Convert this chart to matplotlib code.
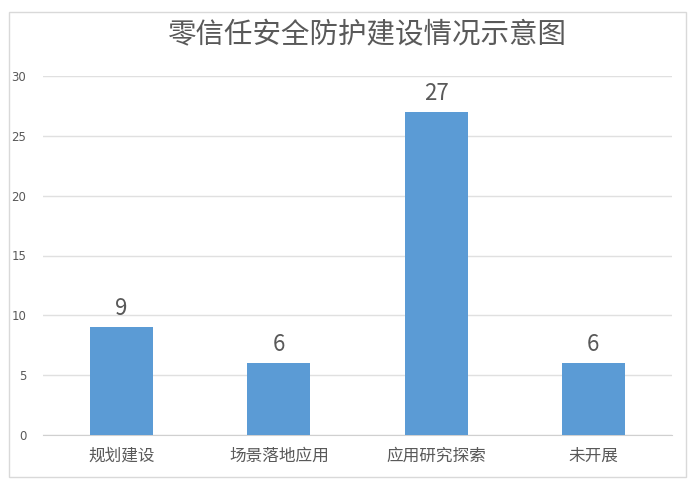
import matplotlib
matplotlib.use("Agg")
import matplotlib.pyplot as plt
from matplotlib.patches import Rectangle

plt.rcParams['font.family'] = ['Noto Sans CJK SC', 'DejaVu Sans']

categories = ["规划建设", "场景落地应用", "应用研究探索", "未开展"]
values = [9, 6, 27, 6]
yticks = [0, 5, 10, 15, 20, 25, 30]
title = "零信任安全防护建设情况示意图"

fig = plt.figure(figsize=(7, 4.87), dpi=100)
fig.patches.append(Rectangle((9/700, 1-477/487), (686-9)/700, (477-12)/487,
                             transform=fig.transFigure, fill=False,
                             edgecolor="#d9d9d9", linewidth=1))
ax = fig.add_axes([43/700, 1-435/487, (672-43)/700, (435-76)/487])

x = range(len(categories))
bars = ax.bar(x, values, width=0.4, color="#5b9bd5", zorder=3)
for xi, v in zip(x, values):
    ax.annotate(str(v), (xi, v), xytext=(0, 5), textcoords="offset points",
                ha="center", va="bottom", fontsize=16, color="#595959")

ax.set_xlim(-0.5, len(categories) - 0.5)
ax.set_ylim(0, 30)
ax.set_yticks(yticks)
ax.set_yticklabels([str(t) for t in yticks], fontsize=8.5, color="#595959",
                   family=['DejaVu Sans'])
ax.set_xticks(list(x))
ax.set_xticklabels(categories, fontsize=12, color="#595959")
ax.tick_params(axis="both", length=0)
ax.tick_params(axis="y", pad=12)
ax.tick_params(axis="x", pad=9)
ax.grid(axis="y", color="#e0e0e0", linewidth=1, zorder=0)
for s in ["top", "right", "left"]:
    ax.spines[s].set_visible(False)
ax.spines["bottom"].set_color("#d0d0d0")

fig.text(367/700, 1-35/487, title, ha="center", va="center", fontsize=20.5,
         color="#595959", fontweight="light")

fig.savefig("out.png", dpi=100)
